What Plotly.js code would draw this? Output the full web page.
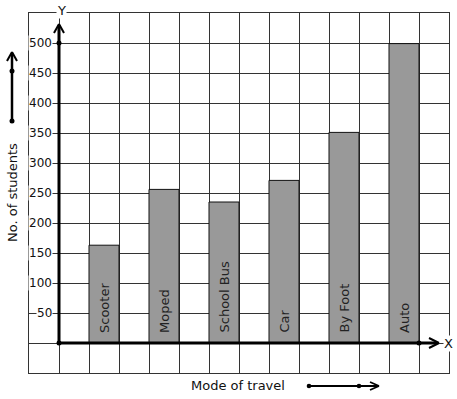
<!DOCTYPE html>
<html><head><meta charset="utf-8">
<script src="https://cdn.plot.ly/plotly-3.0.1.min.js"></script>
<style>html,body{margin:0;padding:0;background:#fff}#c{width:457px;height:399px}</style>
</head><body><div id="c"></div>
<script>
var categories = ['Scooter','Moped','School Bus','Car','By Foot','Auto'];
var students = [163, 256, 235, 271, 351, 499];
var tickValues = [50,100,150,200,250,300,350,400,450,500];
var tickLabels = ['50','100','150','200','250','300','350','400','450','500'];

var W=457,H=399,L=29,R=8,T=13,B=26;
var PW=W-L-R, PH=H-T-B;
function px(x){return (x-L)/PW;}
function py(y){return 1-(y-T)/PH;}
var FONT='DejaVu Sans, sans-serif';

var xs = categories.map(function(c,i){return 1.5+2*i;});

var trace = {
  type:'bar', x:xs, y:students, width:1,
  marker:{color:'#999999', line:{color:'#111', width:1}},
  hoverinfo:'none'
};

var ann = [];
tickValues.forEach(function(v,i){
  ann.push({xref:'paper', yref:'y', x:px(53), y:v, xanchor:'right', yanchor:'middle',
    text:tickLabels[i], showarrow:false, bgcolor:'#fff', borderpad:0,
    font:{family:FONT,size:12,color:'#111'}});
});
categories.forEach(function(c,i){
  ann.push({xref:'x', yref:'y', x:xs[i], y:0, xanchor:'center', yanchor:'bottom', yshift:8,
    text:c, textangle:-90, showarrow:false, font:{family:FONT,size:13,color:'#222'}});
});
ann.push({xref:'paper',yref:'paper',x:px(61),y:py(10),text:'Y',showarrow:false,bgcolor:'#fff',borderpad:0,
  xanchor:'center',yanchor:'middle',font:{family:FONT,size:13,color:'#111'}});
ann.push({xref:'paper',yref:'paper',x:px(448),y:py(343),text:'X',showarrow:false,bgcolor:'#fff',borderpad:0,
  xanchor:'center',yanchor:'middle',font:{family:FONT,size:13,color:'#111'}});
ann.push({xref:'paper',yref:'paper',x:px(12),y:py(193),text:'No. of students',textangle:-90,showarrow:false,
  xanchor:'center',yanchor:'middle',font:{family:FONT,size:13,color:'#111'}});
ann.push({xref:'paper',yref:'paper',x:px(238),y:py(385),text:'Mode of travel',showarrow:false,
  xanchor:'center',yanchor:'middle',font:{family:FONT,size:13,color:'#111'}});

function line(x0,y0,x1,y1,w){return {type:'line',xref:'paper',yref:'paper',x0:px(x0),y0:py(y0),x1:px(x1),y1:py(y1),line:{color:'#000',width:w}};}
function dot(x,y,r){return {type:'circle',xref:'paper',yref:'paper',x0:px(x-r),x1:px(x+r),y0:py(y+r),y1:py(y-r),fillcolor:'#000',line:{color:'#000',width:0}};}
var shapes = [
  line(59,343,59,25,3), line(54,33,59,24,2), line(59,24,64,33,2),
  line(59,343,437,343,3), line(429,338,439,343,2), line(439,343,429,348,2),
  dot(59,43,2.5), dot(59,343,2.5), dot(419,343,2.5),
  line(12,121,12,53,2.5), line(7,61,12,52,2), line(12,52,17,61,2),
  dot(12,121,2.5), dot(12,71,2.5),
  line(309,386,378,386,2), line(370,382,379,386,1.8), line(379,386,370,390,1.8),
  dot(309,386,2.3), dot(359,386,2.3)
];

var layout = {
  width:W, height:H, margin:{l:L,r:R,t:T,b:B}, paper_bgcolor:'#fff', plot_bgcolor:'#fff',
  showlegend:false,
  xaxis:{range:[-1,13], tick0:0, dtick:1, showgrid:true, gridcolor:'#333', gridwidth:1, zeroline:false,
    showticklabels:false, ticks:'', showline:true, mirror:true, linecolor:'#333', linewidth:1, fixedrange:true},
  yaxis:{range:[-50,550], tick0:0, dtick:50, showgrid:true, gridcolor:'#333', gridwidth:1, zeroline:false,
    showticklabels:false, ticks:'', showline:true, mirror:true, linecolor:'#333', linewidth:1, fixedrange:true},
  annotations:ann, shapes:shapes
};
Plotly.newPlot('c',[trace],layout,{displayModeBar:false,staticPlot:true});
</script></body></html>
